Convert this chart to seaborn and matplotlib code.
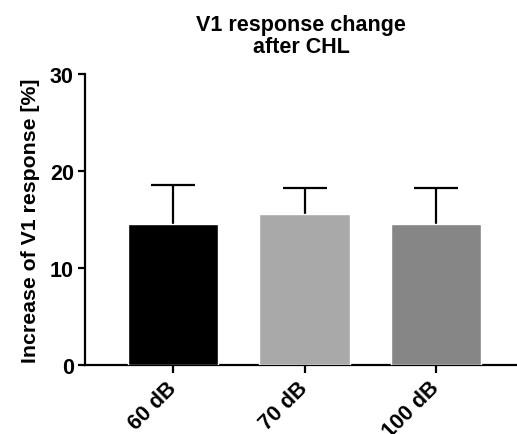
import matplotlib
matplotlib.use("Agg")
import matplotlib.pyplot as plt
import seaborn as sns
import pandas as pd

# values
conditions = ["60 dB", "70 dB", "100 dB"]
mean_increase = [14.5, 15.6, 14.5]
sem_increase = [4.05, 2.6, 3.7]
bar_colors = ["#000000", "#A9A9A9", "#868686"]

sns.set_style("ticks")
plt.rcParams['font.family'] = ['Liberation Sans', 'DejaVu Sans']
plt.rcParams['font.weight'] = 'bold'
plt.rcParams['text.color'] = 'black'
plt.rcParams['axes.labelcolor'] = 'black'
plt.rcParams['xtick.color'] = 'black'
plt.rcParams['ytick.color'] = 'black'

df = pd.DataFrame({'condition': conditions, 'increase': mean_increase})

fig = plt.figure(figsize=(5.17, 4.35), dpi=100)
ax = fig.add_axes([0.1644, 0.1586, 0.8356, 0.669])

sns.barplot(data=df, x='condition', y='increase', hue='condition',
            palette=bar_colors, width=0.69, errorbar=None, legend=False,
            saturation=1, ax=ax, zorder=3)
# upper error bars only (GraphPad style)
_, caps, _ = ax.errorbar(range(len(conditions)), mean_increase,
                         yerr=[[0] * len(conditions), sem_increase],
                         fmt='none', ecolor='black', elinewidth=1.6, capsize=15.5,
                         capthick=1.6, zorder=2)
caps[0].set_visible(False)

ax.set_xlim(-0.67, 2.616)
ax.set_ylim(0, 30)
ax.set_yticks([0, 10, 20, 30])
ax.set_xlabel('')
ax.set_ylabel('Increase of V1 response [%]', fontsize=15.3, fontweight='bold', labelpad=7)
ax.set_title('V1 response change\nafter CHL', fontsize=15.5, fontweight='bold', pad=16,
             linespacing=1.05)

sns.despine(ax=ax)
for s in ['left', 'bottom']:
    ax.spines[s].set_linewidth(1.6)
    ax.spines[s].set_color('black')
ax.tick_params(axis='both', width=1.6, length=5, labelsize=15.5)
ax.tick_params(axis='y', pad=3)
ax.tick_params(axis='x', pad=8, length=6)
plt.setp(ax.get_xticklabels(), rotation=45, ha='right', va='center',
         rotation_mode='anchor', fontweight='bold')
plt.setp(ax.get_yticklabels(), fontweight='bold')

fig.savefig('out.png', dpi=100)
